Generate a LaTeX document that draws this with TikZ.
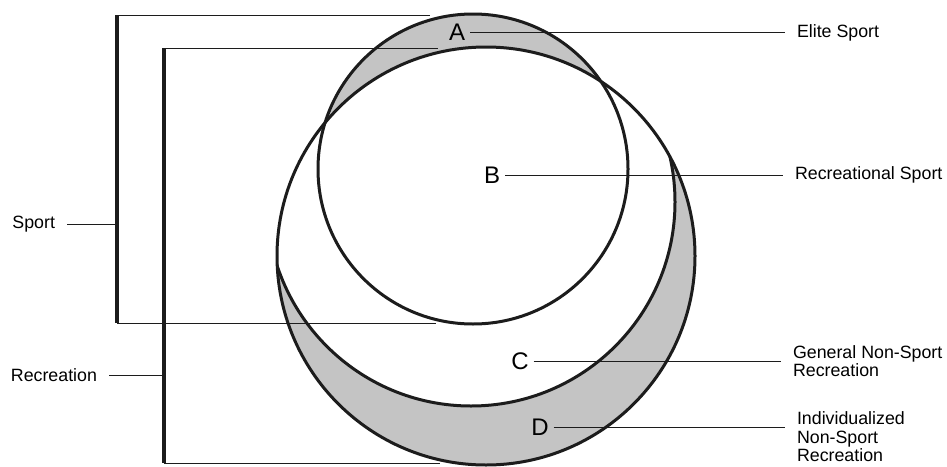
\documentclass[tikz,border=0pt]{standalone}
\usepackage{fontspec}
\setmainfont{Liberation Sans}
\usetikzlibrary{positioning, calc}
\definecolor{stipple}{RGB}{196,196,196}
\definecolor{inkline}{RGB}{28,28,28}
\tikzset{
  ring/.style     = {draw=inkline, line width=3pt},
  ringnode/.style = {ring, circle, inner sep=0pt},
  barline/.style  = {draw=inkline, line width=3.5pt},
  leader/.style   = {draw=inkline, line width=0.9pt},
  letter/.style   = {font=\fontsize{24}{24}\selectfont, inner sep=0pt, outer sep=5pt},
  lbl/.style      = {font=\fontsize{17.8}{18.6}\selectfont, align=left, inner sep=0pt, outer sep=12pt},
}

\begin{document}
\begin{tikzpicture}[x=1pt, y=-1pt]
  \useasboundingbox (0,0) rectangle (947,466);

  % centres of the three circles
  \coordinate (sc) at (473,169);
  \coordinate (rc) at (486,256);
  \coordinate (ic) at (471,202);

  % shaded parts: D, then A
  \fill[stipple] (rc) circle (209);
  \fill[white] (ic) circle (204);
  \begin{scope}
    \clip (sc) circle (155);
    \fill[stipple, even odd rule] (sc) circle (155) (rc) circle (209);
  \end{scope}

  \node[ringnode, minimum size=310pt] (sport) at (sc) {};
  \node[ringnode, minimum size=418pt] (rec) at (rc) {};
  \begin{scope}
    \clip (rc) circle (209);
    \draw[ring] (ic) circle (204);
  \end{scope}

  % letters and their labels
  \node[letter] (A) at (457,32) {A};
  \node[letter] (B) at (492,175) {B};
  \node[letter] (C) at (520,361) {C};
  \node[letter] (D) at (540,427) {D};

  \node[lbl, anchor=west] (elite) at (785,33) {Elite Sport};
  \node[lbl, anchor=west] (recsport) at (783,175) {Recreational Sport};
  \node[lbl, anchor=west] (general) at (781,361) {General Non-Sport\\Recreation};
  \node[lbl, anchor=west] (indiv) at (785,437) {Individualized\\Non-Sport\\Recreation};

  \draw[leader] (A) -- (A -| elite.west);
  \draw[leader] (B) -- (B -| recsport.west);
  \draw[leader] (C) -- (C -| general.west);
  \draw[leader] (D) -- (D -| indiv.west);

  % brackets on the left
  \coordinate (stop) at (117,15);
  \coordinate (sbot) at (117,323);
  \coordinate (rtop) at (164,48);
  \coordinate (rbot) at (164,463);
  \coordinate (stopend) at (430,15);
  \coordinate (sbotend) at (436,323);
  \coordinate (rtopend) at (438,48);
  \coordinate (rbotend) at (440,463);

  \draw[barline] (stop) -- (sbot);
  \draw[barline] (rtop) -- (rbot);
  \draw[leader] (stop) -- (stopend);
  \draw[leader] (sbot) -- (sbotend);
  \draw[leader] (rtop) -- (rtopend);
  \draw[leader] (rbot) -- (rbotend);

  \node[lbl, anchor=east] (sportlbl) at (67,224) {Sport};
  \node[lbl, anchor=east] (reclbl) at (109,375) {Recreation};
  \draw[leader] (sportlbl) -- (sportlbl -| stop);
  \draw[leader] (reclbl) -- (reclbl -| rtop);
\end{tikzpicture}
\end{document}
